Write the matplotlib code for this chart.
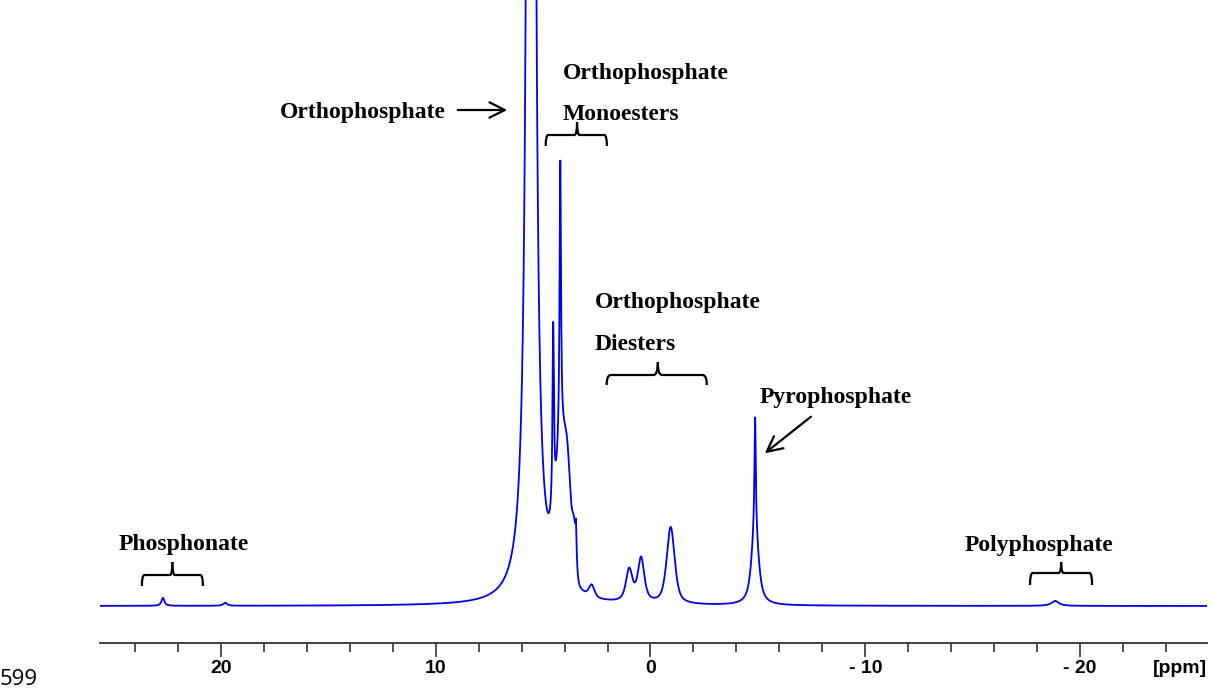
import numpy as np
import matplotlib
matplotlib.use("Agg")
import matplotlib.pyplot as plt
import matplotlib.transforms as mtrans
from matplotlib.path import Path
from matplotlib.patches import PathPatch

# ---- data: peak parameters (ppm, height a.u., half-width ppm, Lorentz fraction)
peak_ppm    = [5.56, 4.53, 4.20, 4.15, 3.85, 3.55, 3.47, 2.74, 0.99, 0.44, -0.94, -4.87, -4.87, 22.7, 19.8, -18.84]
peak_height = [8444, 185, 283, 135, 65, 40, 30, 12, 32, 44, 77, 110, 78, 8, 3, 5]
peak_width  = [0.07, 0.04, 0.04, 0.33, 0.18, 0.10, 0.03, 0.15, 0.18, 0.18, 0.22, 0.035, 0.19, 0.08, 0.10, 0.20]
peak_eta    = [1.0, 1.0, 1.0, 0.5, 0.0, 0.0, 1.0, 0.5, 0.7, 0.7, 0.6, 1.0, 0.8, 1.0, 1.0, 1.0]

major_ticks = [20, 10, 0, -10, -20]
major_labels = ["20", "10", "0", "- 10", "- 20"]
minor_ticks = [24, 22, 18, 16, 14, 12, 8, 6, 4, 2, -2, -4, -6, -8, -12, -14, -16, -18, -22, -24]

ppm = np.linspace(25.63, -25.91, 14000)
spec = np.zeros_like(ppm)
for c, h, w, eta in zip(peak_ppm, peak_height, peak_width, peak_eta):
    d = (ppm - c) / w
    spec += h * (eta / (1 + d ** 2) + (1 - eta) * np.exp(-np.log(2) * d ** 2))

fig = plt.figure(figsize=(12.14, 6.95), dpi=100)
ax = fig.add_axes([100 / 1214, 52 / 695, 1107 / 1214, 643 / 695])
ax.plot(ppm, spec, color="#0000e6", lw=1.3)
ax.set_xlim(25.63, -25.91)
ax.set_ylim(-37, 606)

for s in ["top", "left", "right"]:
    ax.spines[s].set_visible(False)
ax.spines["bottom"].set_color("#333333")
ax.spines["bottom"].set_linewidth(1.3)
ax.set_yticks([])
ax.set_xticks(major_ticks)
ax.set_xticklabels(major_labels)
ax.set_xticks(minor_ticks, minor=True)
ax.tick_params(axis="x", which="major", length=10, width=1.2, color="#333333", pad=2.5,
               labelsize=14)
ax.tick_params(axis="x", which="minor", length=6.5, width=1.2, color="#333333")
for lab in ax.get_xticklabels():
    lab.set_fontweight("bold")
    lab.set_fontfamily("Liberation Sans")

ax.text(-24.65, 0.0, "[ppm]", ha="center", va="top", fontsize=14, fontweight="bold",
        family="Liberation Sans",
        transform=ax.get_xaxis_transform() + mtrans.ScaledTranslation(0, -(10 + 2.5) / 72, fig.dpi_scale_trans))

tfont = dict(family="Liberation Serif", fontweight="bold", fontsize=17, va="baseline", ha="left")
arrow_kw = dict(arrowstyle="->,head_length=1.1,head_width=0.55", lw=1.6, color="black")


def brace(x0, x1, xc, yh, yend, ytip):
    r = 0.25 * abs(x1 - x0) / 6
    sgn = 1 if x1 < x0 else -1
    p1 = Path([(x0, yend), (x0, yh), (x0 - sgn * r, yh), (xc + sgn * r, yh), (xc, yh), (xc, ytip)],
              [Path.MOVETO, Path.CURVE3, Path.CURVE3, Path.LINETO, Path.CURVE3, Path.CURVE3])
    p2 = Path([(xc, ytip), (xc, yh), (xc - sgn * r, yh), (x1 + sgn * r, yh), (x1, yh), (x1, yend)],
              [Path.MOVETO, Path.CURVE3, Path.CURVE3, Path.LINETO, Path.CURVE3, Path.CURVE3])
    for p in (p1, p2):
        ax.add_patch(PathPatch(p, fill=False, lw=1.6, color="black", clip_on=False))


ax.text(17.25, 488, "Orthophosphate", **tfont)
ax.annotate("", xy=(6.54, 496), xytext=(9.10, 496), arrowprops=arrow_kw)

ax.text(4.07, 527, "Orthophosphate", **tfont)
ax.text(4.07, 486, "Monoesters", **tfont)
brace(4.88, 2.03, 3.42, 471, 460, 484)

ax.text(2.58, 298, "Orthophosphate", **tfont)
ax.text(2.58, 256, "Diesters", **tfont)
brace(2.04, -2.62, -0.34, 231, 221, 244)

ax.text(-5.10, 203, "Pyrophosphate", **tfont)
ax.annotate("", xy=(-5.22, 151), xytext=(-7.57, 191), arrowprops=arrow_kw)

ax.text(24.75, 56, "Phosphonate", **tfont)
brace(23.68, 20.84, 22.26, 31, 20, 44)

ax.text(-14.64, 55, "Polyphosphate", **tfont)
brace(-17.67, -20.56, -19.12, 33, 21, 44)

fig.text(0.0, 0.022, "599", ha="left", va="center", fontsize=16, family="Open Sans")

fig.savefig("out.png", dpi=100)
